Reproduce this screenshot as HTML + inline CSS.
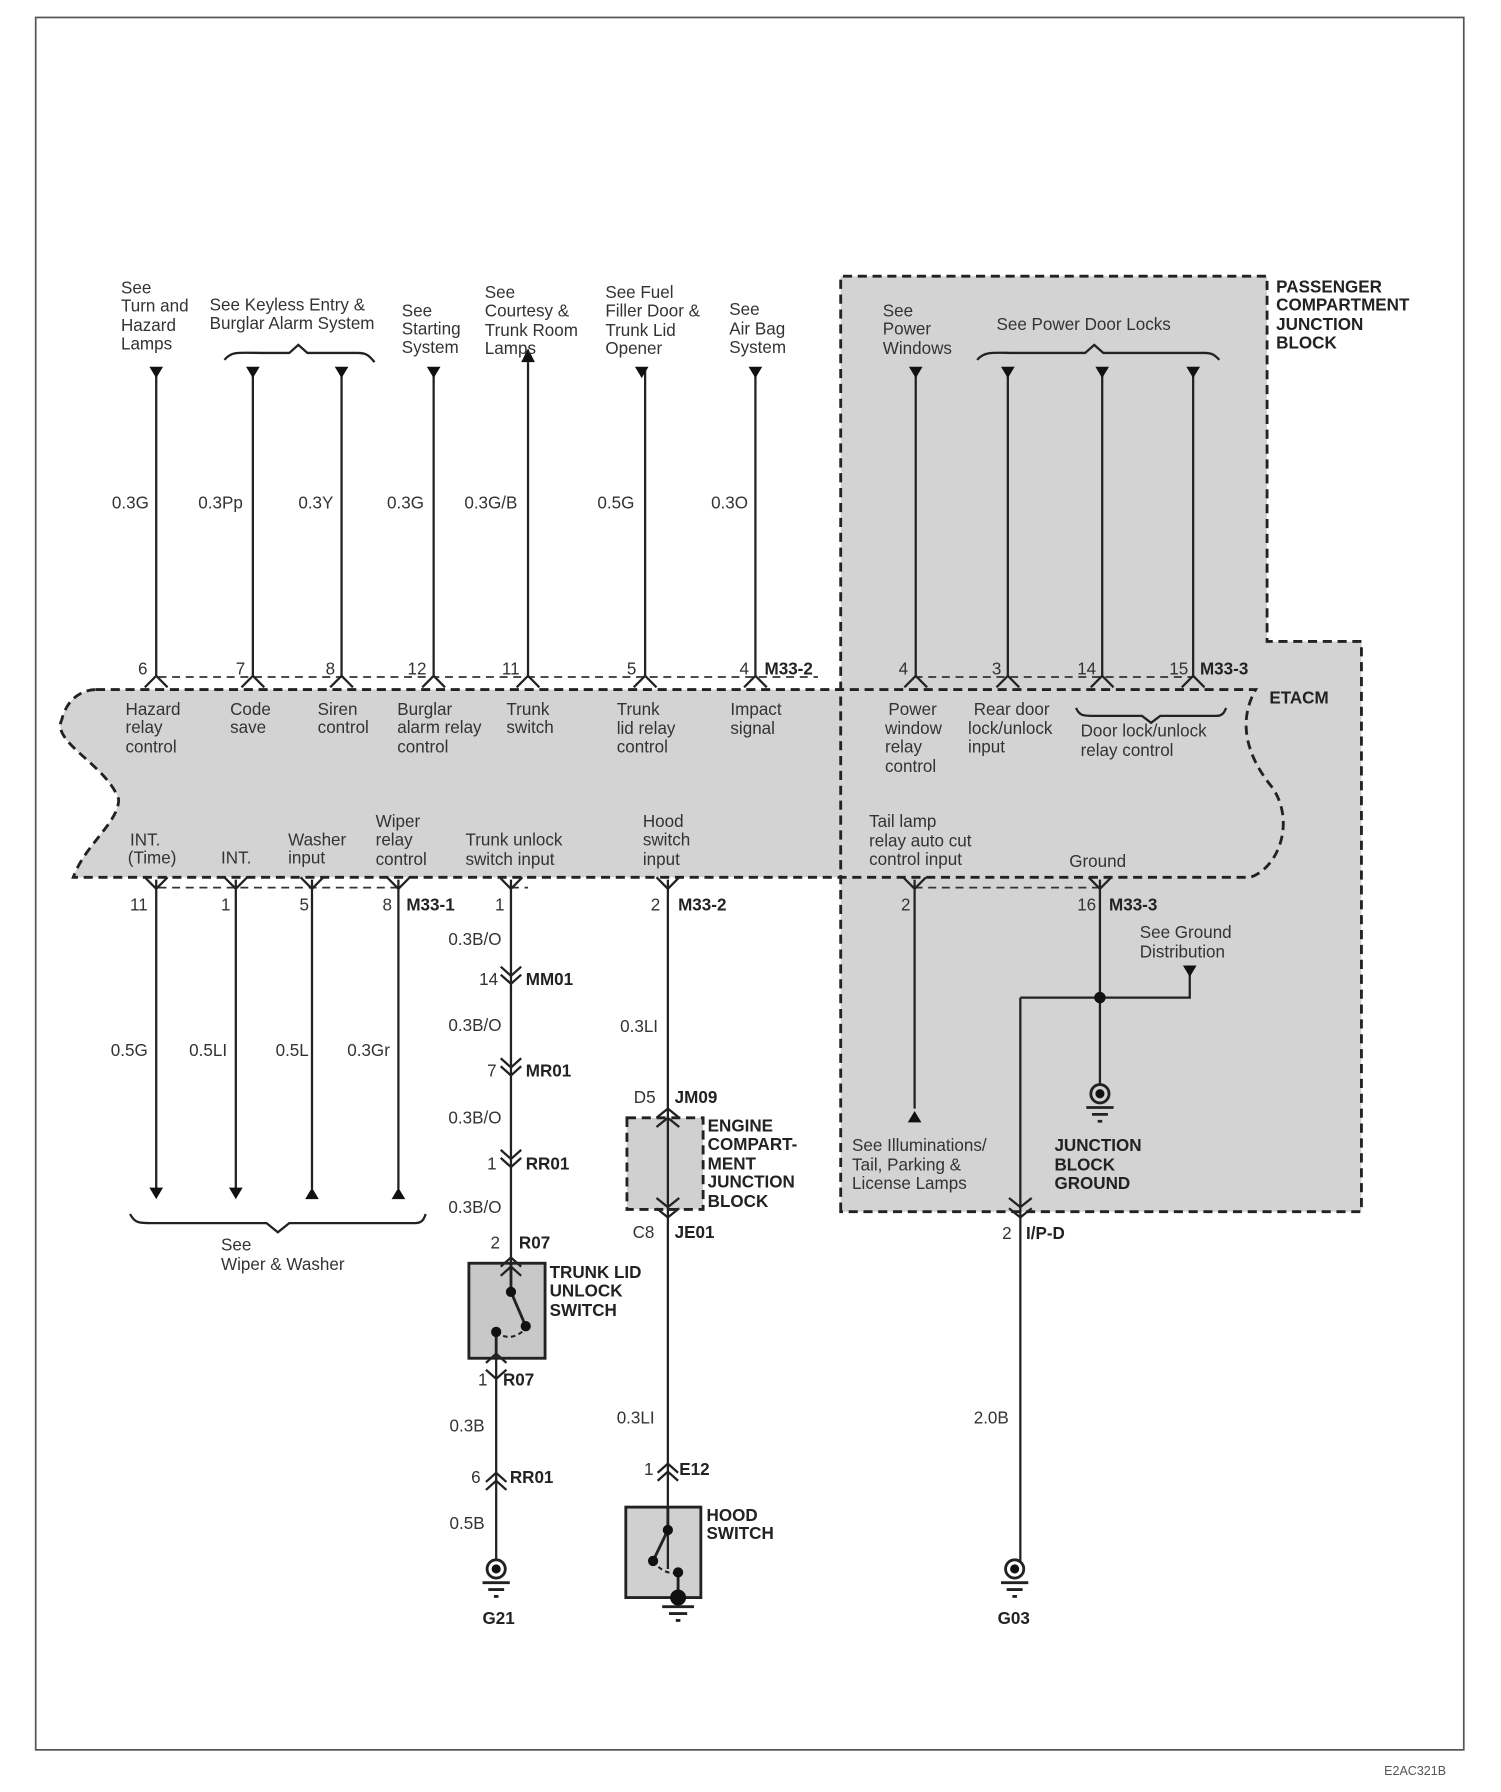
<!DOCTYPE html>
<html><head><meta charset="utf-8"><style>
html,body{margin:0;padding:0;background:#fff;}
svg{display:block;}
text{font-family:"Liberation Sans",Arial,sans-serif;font-size:15px;fill:#333;}
.b{font-weight:bold;fill:#222;}
</style></head><body>
<svg width="1501" height="1792" viewBox="0 0 1501 1792" xmlns="http://www.w3.org/2000/svg">
<g transform="matrix(1.137 0 0 1.145 5 -2)">
<rect x="27" y="17" width="1256" height="1513" fill="none" stroke="#555" stroke-width="1.5"/>
<path d="M735,243 H1110 V562 H1193 V1060 H735 Z" fill="#d3d3d3"/>
<path d="M80,604 H1100 C1085,630 1090,660 1115,690 C1135,720 1120,760 1095,768 H60 C70,740 100,720 100,700 C90,670 40,650 50,630 C55,610 70,604 80,604 Z" fill="#d3d3d3"/>
<rect x="547" y="978" width="67" height="80" fill="#d0d0d0"/>
<rect x="408" y="1105" width="67" height="83" fill="#c8c8c8"/>
<rect x="546" y="1318" width="66" height="79" fill="#d0d0d0"/>
<g fill="none" stroke="#222" stroke-width="2.5" stroke-dasharray="8,5">
<path d="M735,1060 V243 H1110 V562 H1193 V1060 Z"/>
<path d="M80,604 H1100 C1085,630 1090,660 1115,690 C1135,720 1120,760 1095,768 H60 C70,740 100,720 100,700 C90,670 40,650 50,630 C55,610 70,604 80,604 Z"/>
<rect x="547" y="978" width="67" height="80"/>
</g>
<g fill="none" stroke="#333" stroke-width="1.5" stroke-dasharray="7,5">
<path d="M135,593 H715"/><path d="M800,593 H1048"/>
<path d="M135,777 H350"/><path d="M445,777 H460"/><path d="M800,777 H965"/>
</g>
<g stroke="#222" stroke-width="2" fill="none">
<path d="M133,325 V592 M218,325 V592 M296,325 V592 M377,325 V592 M460,318 V592 M563,325 V592 M660,325 V592"/>
<path d="M801,325 V592 M882,325 V592 M965,325 V592 M1045,325 V592"/>
<path d="M133,770 V1040 M203,770 V1040 M270,770 V1040 M346,770 V1040"/>
<path d="M445,770 V1105 M432,1188 V1365 M583,770 V1372 M800,770 V970 M963,770 V950 M893,873 H1042 V852 M893,873 V1365"/>
<path d="M123,602 L133,592 L143,602 M208,602 L218,592 L228,602 M286,602 L296,592 L306,602 M367,602 L377,592 L387,602 M450,602 L460,592 L470,602 M553,602 L563,592 L573,602 M650,602 L660,592 L670,602"/>
<path d="M791,602 L801,592 L811,602 M872,602 L882,592 L892,602 M955,602 L965,592 L975,602 M1035,602 L1045,592 L1055,602"/>
<path d="M123,768 L133,778 L143,768 M193,768 L203,778 L213,768 M260,768 L270,778 L280,768 M336,768 L346,778 L356,768 M435,768 L445,778 L455,768 M573,768 L583,778 L593,768 M790,768 L800,778 L810,768 M953,768 L963,778 L973,768"/>
<path d="M436,846 L445,854 L454,846 M436,853 L445,861 L454,853"/>
<path d="M436,926 L445,934 L454,926 M436,933 L445,941 L454,933"/>
<path d="M436,1006 L445,1014 L454,1006 M436,1013 L445,1021 L454,1013"/>
<path d="M883,1048 L893,1056 L903,1048 M883,1057 L893,1065 L903,1057"/>
<path d="M573,1048 L583,1056 L593,1048 M573,1057 L583,1065 L593,1057"/>
<path d="M423,1192 L432,1184 L441,1192 M423,1198 L432,1206 L441,1198"/>
<path d="M423,1296 L432,1288 L441,1296 M423,1303 L432,1295 L441,1303"/>
<path d="M574,1288 L583,1280 L592,1288 M574,1295 L583,1287 L592,1295"/>
<path d="M573,978 L583,970 L593,978 M573,986 L583,978 L593,986"/>
<path d="M436,1108 L445,1100 L454,1108 M436,1116 L445,1108 L454,1116"/>
<path d="M193,316 C200,308 205,310 230,310 H250 L258,303 L266,310 H310 C318,310 320,312 325,318"/>
<path d="M855,316 C862,308 870,310 890,310 H950 L958,303 L966,310 H1055 C1062,310 1064,312 1068,316"/>
<path d="M942,620 C945,627 948,627 960,627 H1000 L1008,633 L1016,627 H1065 C1070,627 1072,625 1074,620"/>
<path d="M110,1062 C114,1070 118,1070 130,1070 H230 L240,1078 L250,1070 H360 C366,1070 368,1068 370,1062"/>
</g>
<g fill="#111">
<path d="M127,322 H139 L133,332 Z M212,322 H224 L218,332 Z M290,322 H302 L296,332 Z M371,322 H383 L377,332 Z M554,322 H566 L560,332 Z M654,322 H666 L660,332 Z"/>
<path d="M454,318 H466 L460,306 Z"/>
<path d="M795,322 H807 L801,332 Z M876,322 H888 L882,332 Z M959,322 H971 L965,332 Z M1039,322 H1051 L1045,332 Z M1036,845 H1048 L1042,855 Z"/>
<path d="M127,1039 H139 L133,1049 Z M197,1039 H209 L203,1049 Z M264,1049 H276 L270,1039 Z M340,1049 H352 L346,1039 Z M794,982 H806 L800,972 Z"/>
<circle cx="963" cy="873" r="5"/>
</g>
<g stroke="#222" stroke-width="2.5" fill="none">
<rect x="408" y="1105" width="67" height="83"/>
<rect x="546" y="1318" width="66" height="79"/>
<path d="M445,1105 V1130 L458,1160 M432,1165 V1188 M583,1318 V1338 L570,1365 M592,1375 V1397"/>
<path d="M432,1165 Q445,1175 458,1162 M570,1365 Q580,1378 592,1375" stroke-dasharray="4,3" stroke-width="1.8"/>
</g>
<g fill="#111">
<circle cx="445" cy="1130" r="4.5"/><circle cx="458" cy="1160" r="4.5"/><circle cx="432" cy="1165" r="4.5"/>
<circle cx="583" cy="1338" r="4.5"/><circle cx="570" cy="1365" r="4.5"/><circle cx="592" cy="1375" r="4.5"/>
<circle cx="592" cy="1397" r="7"/>
</g>
<g stroke="#222" stroke-width="2.5" fill="none">
<circle cx="432" cy="1372" r="8"/><circle cx="888" cy="1372" r="8"/><circle cx="963" cy="957" r="8"/>
<path d="M420,1384 H444 M425,1390 H439 M430,1396 H434"/>
<path d="M876,1384 H900 M881,1390 H895 M886,1396 H890"/>
<path d="M951,969 H975 M956,975 H970 M961,981 H965"/>
<path d="M578,1405 H606 M584,1411 H600 M590,1417 H594"/>
</g>
<g fill="#111"><circle cx="432" cy="1372" r="4"/><circle cx="888" cy="1372" r="4"/><circle cx="963" cy="957" r="4"/></g>
<text x="102" y="258">See</text><text x="102" y="274">Turn and</text><text x="102" y="291">Hazard</text><text x="102" y="307">Lamps</text>
<text x="180" y="273">See Keyless Entry &amp;</text><text x="180" y="289">Burglar Alarm System</text>
<text x="349" y="278">See</text><text x="349" y="294">Starting</text><text x="349" y="310">System</text>
<text x="422" y="262">See</text><text x="422" y="278">Courtesy &amp;</text><text x="422" y="295">Trunk Room</text><text x="422" y="311">Lamps</text>
<text x="528" y="262">See Fuel</text><text x="528" y="278">Filler Door &amp;</text><text x="528" y="295">Trunk Lid</text><text x="528" y="311">Opener</text>
<text x="637" y="277">See</text><text x="637" y="294">Air Bag</text><text x="637" y="310">System</text>
<text x="772" y="278">See</text><text x="772" y="294">Power</text><text x="772" y="311">Windows</text>
<text x="872" y="290">See Power Door Locks</text>
<text class="b" x="1118" y="257">PASSENGER</text><text class="b" x="1118" y="273">COMPARTMENT</text><text class="b" x="1118" y="290">JUNCTION</text><text class="b" x="1118" y="306">BLOCK</text>
<text x="94" y="446">0.3G</text><text x="170" y="446">0.3Pp</text><text x="258" y="446">0.3Y</text><text x="336" y="446">0.3G</text><text x="404" y="446">0.3G/B</text><text x="521" y="446">0.5G</text><text x="621" y="446">0.3O</text>
<text x="117" y="591">6</text><text x="203" y="591">7</text><text x="282" y="591">8</text><text x="354" y="591">12</text><text x="437" y="591">11</text><text x="547" y="591">5</text><text x="646" y="591">4</text><text class="b" x="668" y="591">M33-2</text>
<text x="786" y="591">4</text><text x="868" y="591">3</text><text x="943" y="591">14</text><text x="1024" y="591">15</text><text class="b" x="1051" y="591">M33-3</text>
<text class="b" x="1112" y="616">ETACM</text>
<text x="106" y="626">Hazard</text><text x="106" y="642">relay</text><text x="106" y="659">control</text>
<text x="198" y="626">Code</text><text x="198" y="642">save</text>
<text x="275" y="626">Siren</text><text x="275" y="642">control</text>
<text x="345" y="626">Burglar</text><text x="345" y="642">alarm relay</text><text x="345" y="659">control</text>
<text x="441" y="626">Trunk</text><text x="441" y="642">switch</text>
<text x="538" y="626">Trunk</text><text x="538" y="643">lid relay</text><text x="538" y="659">control</text>
<text x="638" y="626">Impact</text><text x="638" y="643">signal</text>
<text x="777" y="626">Power</text><text x="774" y="643">window</text><text x="774" y="659">relay</text><text x="774" y="676">control</text>
<text x="852" y="626">Rear door</text><text x="847" y="643">lock/unlock</text><text x="847" y="659">input</text>
<text x="946" y="645">Door lock/unlock</text><text x="946" y="662">relay control</text>
<text x="110" y="740">INT.</text><text x="108" y="756">(Time)</text>
<text x="190" y="756">INT.</text>
<text x="249" y="740">Washer</text><text x="249" y="756">input</text>
<text x="326" y="724">Wiper</text><text x="326" y="740">relay</text><text x="326" y="757">control</text>
<text x="405" y="740">Trunk unlock</text><text x="405" y="757">switch input</text>
<text x="561" y="724">Hood</text><text x="561" y="740">switch</text><text x="561" y="757">input</text>
<text x="760" y="724">Tail lamp</text><text x="760" y="741">relay auto cut</text><text x="760" y="757">control input</text>
<text x="936" y="759">Ground</text>
<text x="110" y="797">11</text><text x="190" y="797">1</text><text x="259" y="797">5</text><text x="332" y="797">8</text><text class="b" x="353" y="797">M33-1</text>
<text x="431" y="797">1</text><text x="568" y="797">2</text><text class="b" x="592" y="797">M33-2</text>
<text x="788" y="797">2</text><text x="943" y="797">16</text><text class="b" x="971" y="797">M33-3</text>
<text x="93" y="924">0.5G</text><text x="162" y="924">0.5LI</text><text x="238" y="924">0.5L</text><text x="301" y="924">0.3Gr</text>
<text x="190" y="1094">See</text><text x="190" y="1111">Wiper &amp; Washer</text>
<text x="390" y="827">0.3B/O</text><text x="417" y="862">14</text><text class="b" x="458" y="862">MM01</text>
<text x="390" y="902">0.3B/O</text><text x="424" y="942">7</text><text class="b" x="458" y="942">MR01</text>
<text x="390" y="983">0.3B/O</text><text x="424" y="1023">1</text><text class="b" x="458" y="1023">RR01</text>
<text x="390" y="1061">0.3B/O</text><text x="427" y="1092">2</text><text class="b" x="452" y="1092">R07</text>
<text class="b" x="479" y="1118">TRUNK LID</text><text class="b" x="479" y="1134">UNLOCK</text><text class="b" x="479" y="1151">SWITCH</text>
<text x="416" y="1212">1</text><text class="b" x="438" y="1212">R07</text>
<text x="391" y="1252">0.3B</text><text x="410" y="1297">6</text><text class="b" x="444" y="1297">RR01</text>
<text x="391" y="1337">0.5B</text><text class="b" x="420" y="1420">G21</text>
<text x="541" y="903">0.3LI</text>
<text x="553" y="965">D5</text><text class="b" x="589" y="965">JM09</text>
<text class="b" x="618" y="990">ENGINE</text><text class="b" x="618" y="1006">COMPART-</text><text class="b" x="618" y="1023">MENT</text><text class="b" x="618" y="1039">JUNCTION</text><text class="b" x="618" y="1056">BLOCK</text>
<text x="552" y="1083">C8</text><text class="b" x="589" y="1083">JE01</text>
<text x="538" y="1245">0.3LI</text><text x="562" y="1290">1</text><text class="b" x="593" y="1290">E12</text>
<text class="b" x="617" y="1330">HOOD</text><text class="b" x="617" y="1346">SWITCH</text>
<text x="998" y="821">See Ground</text><text x="998" y="838">Distribution</text>
<text x="745" y="1007">See Illuminations/</text><text x="745" y="1024">Tail, Parking &amp;</text><text x="745" y="1040">License Lamps</text>
<text class="b" x="923" y="1007">JUNCTION</text><text class="b" x="923" y="1024">BLOCK</text><text class="b" x="923" y="1040">GROUND</text>
<text x="877" y="1084">2</text><text class="b" x="898" y="1084">I/P-D</text>
<text x="852" y="1245">2.0B</text>
<text class="b" x="873" y="1420">G03</text>
<text x="1213" y="1552" style="font-size:11px;fill:#555">E2AC321B</text>
</g>
</svg>
</body></html>
